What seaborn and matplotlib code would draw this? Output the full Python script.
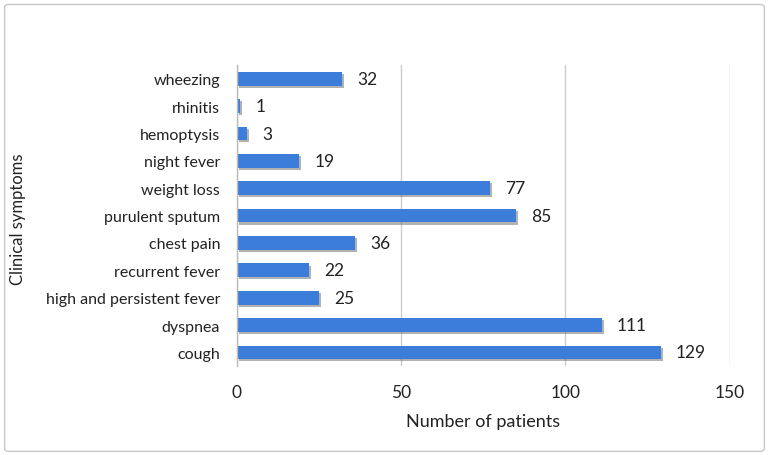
import matplotlib
matplotlib.use("Agg")
import matplotlib.pyplot as plt
import matplotlib.patheffects as pe
from matplotlib.patches import FancyBboxPatch
import seaborn as sns
import pandas as pd

# data (top to bottom)
symptoms = ["wheezing", "rhinitis", "hemoptysis", "night fever", "weight loss",
            "purulent sputum", "chest pain", "recurrent fever",
            "high and persistent fever", "dyspnea", "cough"]
patients = [32, 1, 3, 19, 77, 85, 36, 22, 25, 111, 129]
x_ticks = [0, 50, 100, 150]

df = pd.DataFrame({"symptom": symptoms, "patients": patients})

sns.set_theme(style="white")
plt.rcParams["font.family"] = ["Lato", "DejaVu Sans"]

fig = plt.figure(figsize=(7.69, 4.56), dpi=100)
ax = fig.add_axes([0.308, 0.195, 0.641, 0.66])

sns.barplot(data=df, x="patients", y="symptom", orient="h", color="#3b7dd8",
            saturation=1, width=0.5, ax=ax)

# soft drop shadow like the office-style chart
for bar in ax.patches:
    bar.set_path_effects([pe.SimplePatchShadow(offset=(1.5, -1.5), alpha=0.45,
                                               shadow_rgbFace="#555555"),
                          pe.Normal()])
    bar.set_edgecolor("none")

for i, v in enumerate(patients):
    ax.annotate(str(v), (v, i), xytext=(11, 0), textcoords="offset points",
                va="center", ha="left", fontsize=12.5, color="#222222")

ax.set_xlim(0, 150)
ax.set_xticks(x_ticks)
ax.set_ylim(len(symptoms) - 0.5, -0.5)
ax.xaxis.grid(True, color="#cccccc", linewidth=1)
ax.set_axisbelow(True)
for s in ["top", "right", "bottom"]:
    ax.spines[s].set_visible(False)
ax.spines["left"].set_color("#bbbbbb")
ax.spines["left"].set_linewidth(1)
ax.tick_params(axis="x", length=0, pad=13, labelsize=12.5, labelcolor="#222222")
ax.tick_params(axis="y", length=0, pad=12, labelsize=11.5, labelcolor="#222222")
ax.set_xlabel("Number of patients", fontsize=13, color="#222222", labelpad=9)
ax.set_ylabel("")
fig.text(0.023, 0.52, "Clinical symptoms", rotation=90, va="center",
         ha="center", fontsize=12, color="#222222")

# outer chart border
border = FancyBboxPatch((0.006, 0.008), 0.988, 0.98, transform=fig.transFigure,
                        boxstyle="round,pad=0,rounding_size=0.006",
                        facecolor="none", edgecolor="#c8c8c8", linewidth=1)
fig.patches.append(border)

fig.savefig("out.png", dpi=100)
